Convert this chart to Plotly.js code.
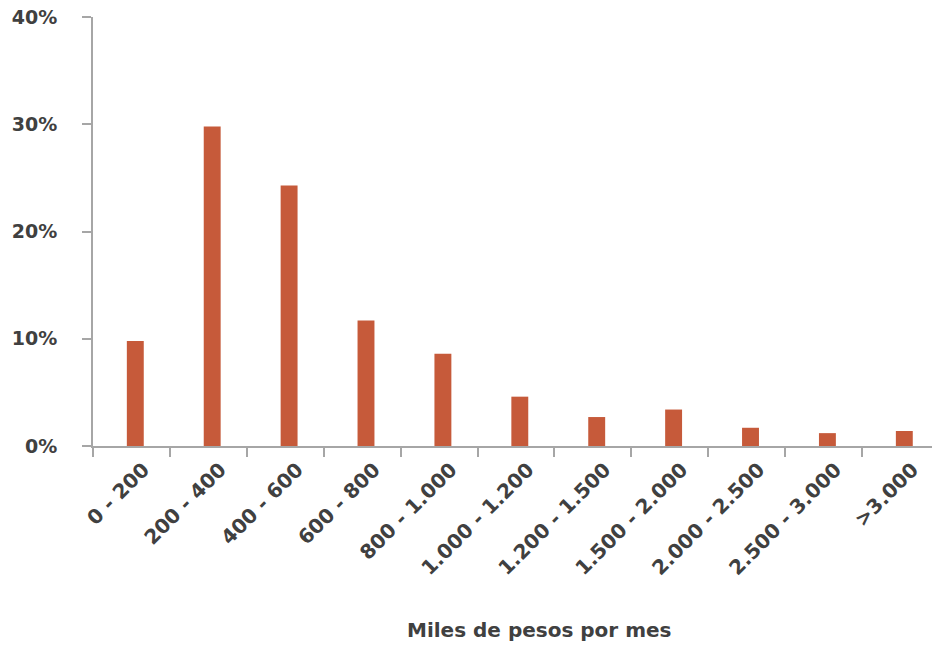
<!DOCTYPE html>
<html>
<head>
<meta charset="utf-8">
<script src="https://cdn.plot.ly/plotly-3.0.1.min.js"></script>
<style>html,body{margin:0;padding:0;background:#fff;}#chart{width:932px;height:645px;}</style>
</head>
<body>
<div id="chart"></div>
<script>
var categories = ["0 - 200", "200 - 400", "400 - 600", "600 - 800", "800 - 1.000", "1.000 - 1.200", "1.200 - 1.500", "1.500 - 2.000", "2.000 - 2.500", "2.500 - 3.000", ">3.000"];
var shares = [9.8, 29.8, 24.3, 11.7, 8.6, 4.6, 2.7, 3.4, 1.7, 1.2, 1.4];
var yTickValues = [0, 10, 20, 30, 40];
var yTickLabels = ["0%", "10%", "20%", "30%", "40%"];
var xTitle = "Miles de pesos por mes";

var fontFamily = "'DejaVu Sans', 'Open Sans', sans-serif";
var textColor = "#404040";
var axisColor = "#a6a6a6";

var trace = {
  type: "bar",
  x: categories,
  y: shares,
  marker: {color: "#c65a3a"},
  width: 0.22,
  offset: -0.06,
  hoverinfo: "x+y"
};

var layout = {
  width: 932,
  height: 645,
  margin: {l: 93, r: 0, t: 17, b: 199},
  paper_bgcolor: "#ffffff",
  plot_bgcolor: "#ffffff",
  showlegend: false,
  font: {family: fontFamily, color: textColor, size: 18, weight: 700},
  xaxis: {
    type: "category",
    range: [-0.5, 10.41],
    showline: true,
    linecolor: axisColor,
    linewidth: 2,
    ticks: "outside",
    tickson: "boundaries",
    ticklen: 9,
    tickwidth: 2,
    tickcolor: axisColor,
    tickangle: -45,
    ticklabelshift: 12,
    ticklabelstandoff: 2,
    showgrid: false,
    zeroline: false,
    tickfont: {family: fontFamily, color: textColor, size: 20, weight: 700}
  },
  yaxis: {
    range: [0, 40],
    tickvals: yTickValues,
    ticktext: yTickLabels,
    showline: true,
    linecolor: axisColor,
    linewidth: 2,
    ticks: "outside",
    ticklen: 9,
    tickwidth: 2,
    tickcolor: axisColor,
    ticklabelstandoff: 21,
    showgrid: false,
    zeroline: false,
    tickfont: {family: fontFamily, color: textColor, size: 19, weight: 700}
  },
  annotations: [{
    text: xTitle,
    xref: "paper", yref: "paper",
    x: 0.532, y: -0.428,
    xanchor: "center", yanchor: "middle",
    showarrow: false,
    font: {family: fontFamily, color: textColor, size: 20, weight: 700}
  }]
};

Plotly.newPlot("chart", [trace], layout, {displayModeBar: false, staticPlot: true});
</script>
</body>
</html>
